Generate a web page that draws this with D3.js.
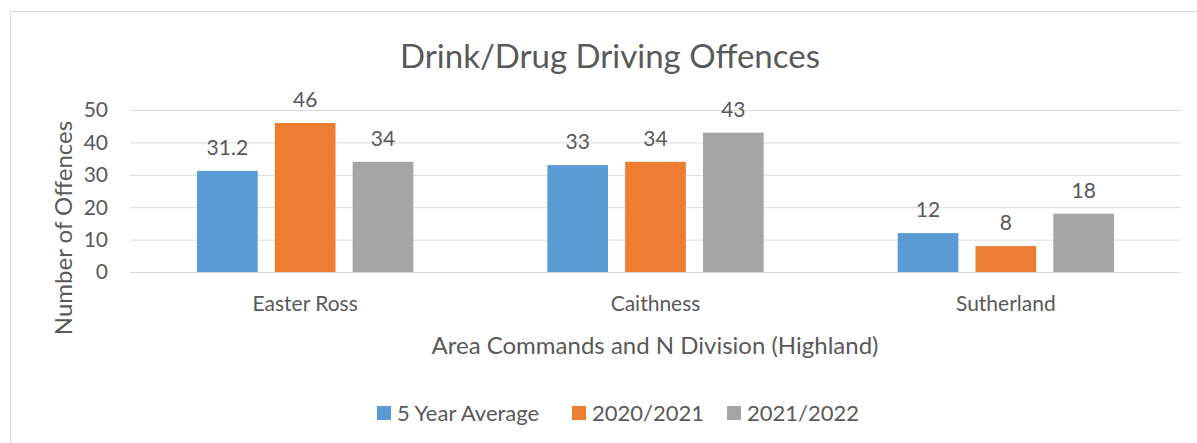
<!DOCTYPE html>
<html>
<head>
<meta charset="utf-8">
<script src="https://cdn.jsdelivr.net/npm/d3@7"></script>
<style>
  body { margin: 0; background: #fff; }
  text { font-family: Lato, "Open Sans", sans-serif; fill: #595959; }
</style>
</head>
<body>
<div id="chart"></div>
<script>
const areas = ["Easter Ross", "Caithness", "Sutherland"];
const seriesNames = ["5 Year Average", "2020/2021", "2021/2022"];
const fiveYearAvg = [31.2, 33, 12];
const y2020 = [46, 34, 8];
const y2021 = [34, 43, 18];
const yTicks = [0, 10, 20, 30, 40, 50];
const colors = ["#5b9bd5", "#ed7d31", "#a5a5a5"];

const series = [fiveYearAvg, y2020, y2021];
const W = 1197, H = 443;
const plotL = 130, plotR = 1181, plotT = 110, plotB = 272;

const svg = d3.select("#chart").append("svg")
  .attr("width", W).attr("height", H);

// chart frame
svg.append("rect")
  .attr("x", 10.5).attr("y", 11.5)
  .attr("width", W + 20).attr("height", H + 20)
  .attr("fill", "none").attr("stroke", "#d9d9d9");

const x = d3.scaleBand().domain(areas).range([plotL, plotR]);
const xs = d3.scaleBand().domain(seriesNames)
  .range([67, x.bandwidth() - 67]).paddingInner(0.22);
const y = d3.scaleLinear().domain([0, 50]).range([plotB, plotT]);

// gridlines
svg.append("g").selectAll("line").data(yTicks).enter().append("line")
  .attr("x1", plotL).attr("x2", plotR)
  .attr("y1", d => y(d) + 0.5).attr("y2", d => y(d) + 0.5)
  .attr("stroke", "#d9d9d9").attr("stroke-width", 1);

// y tick labels
svg.append("g").selectAll("text").data(yTicks).enter().append("text")
  .attr("x", 108).attr("y", d => y(d))
  .attr("dy", "0.35em").attr("text-anchor", "end")
  .style("font-size", "21px")
  .text(d => d);

// bars + labels
const groups = svg.append("g").selectAll("g").data(areas).enter().append("g")
  .attr("transform", d => "translate(" + x(d) + ",0)");

groups.selectAll("rect")
  .data((d, i) => seriesNames.map((s, j) => ({ s: s, v: series[j][i], c: colors[j] })))
  .enter().append("rect")
  .attr("x", d => xs(d.s))
  .attr("width", xs.bandwidth())
  .attr("y", d => y(d.v))
  .attr("height", d => y(0) - y(d.v))
  .attr("fill", d => d.c);

groups.selectAll("text")
  .data((d, i) => seriesNames.map((s, j) => ({ s: s, v: series[j][i] })))
  .enter().append("text")
  .attr("x", d => xs(d.s) + xs.bandwidth() / 2)
  .attr("y", d => y(d.v) - 16)
  .attr("text-anchor", "middle")
  .style("font-size", "21px")
  .text(d => d.v);

// category labels
svg.append("g").selectAll("text").data(areas).enter().append("text")
  .attr("x", d => x(d) + x.bandwidth() / 2)
  .attr("y", 311)
  .attr("text-anchor", "middle")
  .style("font-size", "21px")
  .text(d => d);

// title
svg.append("text")
  .attr("x", 610).attr("y", 68)
  .attr("text-anchor", "middle")
  .style("font-size", "33px")
  .text("Drink/Drug Driving Offences");

// axis titles
svg.append("text")
  .attr("x", 655).attr("y", 354)
  .attr("text-anchor", "middle")
  .style("font-size", "24px")
  .text("Area Commands and N Division (Highland)");

svg.append("text")
  .attr("transform", "translate(72,228) rotate(-90)")
  .attr("text-anchor", "middle")
  .style("font-size", "24px")
  .text("Number of Offences");

// legend
const legendX = [377, 572, 727];
const legend = svg.append("g").selectAll("g").data(seriesNames).enter().append("g")
  .attr("transform", (d, i) => "translate(" + legendX[i] + ",413)");
legend.append("rect")
  .attr("x", 0).attr("y", -7).attr("width", 14).attr("height", 14)
  .attr("fill", (d, i) => colors[i]);
legend.append("text")
  .attr("x", 20).attr("y", 0).attr("dy", "0.35em")
  .style("font-size", "22px")
  .text(d => d);
</script>
</body>
</html>
